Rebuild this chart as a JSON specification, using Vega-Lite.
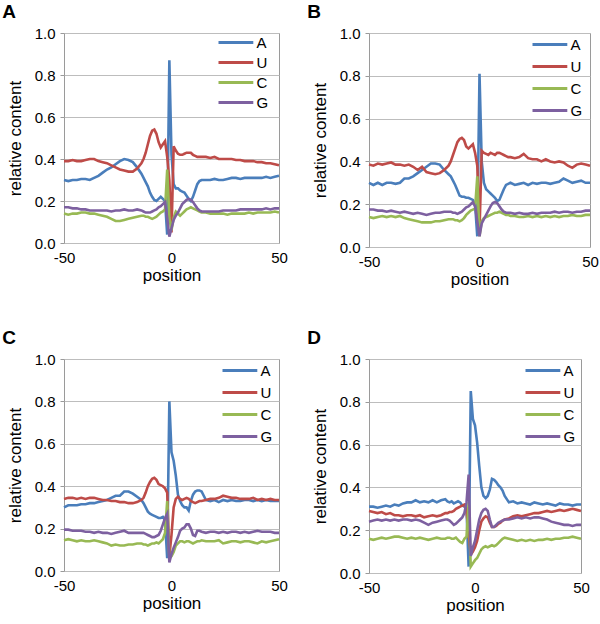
{
"$schema": "https://vega.github.io/schema/vega-lite/v6.json",
"background": "white",
"padding": {"left": 1, "top": 2, "right": 2, "bottom": 0},
"config": {
  "font": "Liberation Sans",
  "view": {"stroke": "#9a9a9a", "strokeWidth": 1},
  "axis": {"labelFont": "Liberation Sans", "titleFont": "Liberation Sans", "labelFontSize": 15, "titleFontSize": 17, "titleFontWeight": "normal", "labelColor": "#000", "titleColor": "#000", "domain": false, "gridColor": "#bdbdbd", "tickColor": "#9a9a9a"},
  "axisX": {"grid": false, "ticks": false, "labelPadding": 7, "titlePadding": 2, "labelFlush": false, "labelExpr": "'' + datum.value"},
  "axisY": {"grid": true, "tickSize": 4, "labelPadding": 5, "titlePadding": 10},
  "legend": {"title": null, "symbolType": "M-5.8,0H5.8", "symbolSize": 36, "symbolOffset": 14.4, "labelOffset": 13, "symbolStrokeWidth": 3, "labelFontSize": 15, "labelFont": "Liberation Sans", "labelColor": "#000", "rowPadding": 4, "padding": 0},
  "title": {"font": "Liberation Sans", "fontSize": 19, "fontWeight": "bold", "anchor": "start", "frame": "bounds", "baseline": "alphabetic", "offset": 4, "color": "#000"}
},
"data": {"values": [
{"g":"A","b":"A","x":-50,"y":0.3},{"g":"A","b":"A","x":-48,"y":0.295},{"g":"A","b":"A","x":-46,"y":0.3},{"g":"A","b":"A","x":-44,"y":0.3},{"g":"A","b":"A","x":-42,"y":0.305},{"g":"A","b":"A","x":-40,"y":0.305},{"g":"A","b":"A","x":-38,"y":0.3},{"g":"A","b":"A","x":-36,"y":0.31},{"g":"A","b":"A","x":-34,"y":0.32},{"g":"A","b":"A","x":-32,"y":0.335},{"g":"A","b":"A","x":-30,"y":0.35},{"g":"A","b":"A","x":-28,"y":0.36},{"g":"A","b":"A","x":-26,"y":0.375},{"g":"A","b":"A","x":-24,"y":0.39},{"g":"A","b":"A","x":-22,"y":0.4},{"g":"A","b":"A","x":-20,"y":0.395},{"g":"A","b":"A","x":-18,"y":0.385},{"g":"A","b":"A","x":-16,"y":0.36},{"g":"A","b":"A","x":-14,"y":0.33},
{"g":"A","b":"A","x":-13,"y":0.31},{"g":"A","b":"A","x":-12,"y":0.29},{"g":"A","b":"A","x":-11,"y":0.27},{"g":"A","b":"A","x":-10,"y":0.24},{"g":"A","b":"A","x":-9,"y":0.22},{"g":"A","b":"A","x":-8,"y":0.205},{"g":"A","b":"A","x":-7,"y":0.2},{"g":"A","b":"A","x":-6,"y":0.21},{"g":"A","b":"A","x":-5,"y":0.22},{"g":"A","b":"A","x":-4,"y":0.21},{"g":"A","b":"A","x":-3,"y":0.2},{"g":"A","b":"A","x":-2,"y":0.04},{"g":"A","b":"A","x":-1,"y":0.87},{"g":"A","b":"A","x":0,"y":0.42},{"g":"A","b":"A","x":1,"y":0.28},{"g":"A","b":"A","x":2,"y":0.26},{"g":"A","b":"A","x":3,"y":0.26},{"g":"A","b":"A","x":4,"y":0.25},{"g":"A","b":"A","x":5,"y":0.245},{"g":"A","b":"A","x":6,"y":0.24},{"g":"A","b":"A","x":7,"y":0.225},{"g":"A","b":"A","x":8,"y":0.21},{"g":"A","b":"A","x":9,"y":0.2},{"g":"A","b":"A","x":10,"y":0.22},{"g":"A","b":"A","x":11,"y":0.25},{"g":"A","b":"A","x":12,"y":0.28},{"g":"A","b":"A","x":13,"y":0.295},
{"g":"A","b":"A","x":14,"y":0.3},{"g":"A","b":"A","x":16,"y":0.3},{"g":"A","b":"A","x":18,"y":0.3},{"g":"A","b":"A","x":20,"y":0.305},{"g":"A","b":"A","x":22,"y":0.3},{"g":"A","b":"A","x":24,"y":0.3},{"g":"A","b":"A","x":26,"y":0.305},{"g":"A","b":"A","x":28,"y":0.31},{"g":"A","b":"A","x":30,"y":0.31},{"g":"A","b":"A","x":32,"y":0.305},{"g":"A","b":"A","x":34,"y":0.31},{"g":"A","b":"A","x":36,"y":0.31},{"g":"A","b":"A","x":38,"y":0.31},{"g":"A","b":"A","x":40,"y":0.31},{"g":"A","b":"A","x":42,"y":0.31},{"g":"A","b":"A","x":44,"y":0.315},{"g":"A","b":"A","x":46,"y":0.31},{"g":"A","b":"A","x":48,"y":0.315},{"g":"A","b":"A","x":50,"y":0.32},

{"g":"A","b":"U","x":-50,"y":0.39},{"g":"A","b":"U","x":-48,"y":0.39},{"g":"A","b":"U","x":-46,"y":0.395},{"g":"A","b":"U","x":-44,"y":0.39},{"g":"A","b":"U","x":-42,"y":0.39},{"g":"A","b":"U","x":-40,"y":0.395},{"g":"A","b":"U","x":-38,"y":0.4},{"g":"A","b":"U","x":-36,"y":0.4},{"g":"A","b":"U","x":-34,"y":0.39},{"g":"A","b":"U","x":-32,"y":0.385},{"g":"A","b":"U","x":-30,"y":0.38},{"g":"A","b":"U","x":-28,"y":0.37},{"g":"A","b":"U","x":-26,"y":0.36},{"g":"A","b":"U","x":-24,"y":0.35},{"g":"A","b":"U","x":-22,"y":0.345},{"g":"A","b":"U","x":-20,"y":0.34},{"g":"A","b":"U","x":-18,"y":0.34},{"g":"A","b":"U","x":-16,"y":0.355},{"g":"A","b":"U","x":-14,"y":0.38},
{"g":"A","b":"U","x":-13,"y":0.4},{"g":"A","b":"U","x":-12,"y":0.43},{"g":"A","b":"U","x":-11,"y":0.47},{"g":"A","b":"U","x":-10,"y":0.51},{"g":"A","b":"U","x":-9,"y":0.535},{"g":"A","b":"U","x":-8,"y":0.54},{"g":"A","b":"U","x":-7,"y":0.52},{"g":"A","b":"U","x":-6,"y":0.48},{"g":"A","b":"U","x":-5,"y":0.455},{"g":"A","b":"U","x":-4,"y":0.47},{"g":"A","b":"U","x":-3,"y":0.485},{"g":"A","b":"U","x":-2,"y":0.41},{"g":"A","b":"U","x":-1,"y":0.3},{"g":"A","b":"U","x":0,"y":0.05},{"g":"A","b":"U","x":1,"y":0.46},{"g":"A","b":"U","x":2,"y":0.44},{"g":"A","b":"U","x":3,"y":0.425},{"g":"A","b":"U","x":4,"y":0.42},{"g":"A","b":"U","x":5,"y":0.42},{"g":"A","b":"U","x":6,"y":0.425},{"g":"A","b":"U","x":7,"y":0.43},{"g":"A","b":"U","x":8,"y":0.43},{"g":"A","b":"U","x":9,"y":0.43},{"g":"A","b":"U","x":10,"y":0.42},{"g":"A","b":"U","x":11,"y":0.415},{"g":"A","b":"U","x":12,"y":0.41},{"g":"A","b":"U","x":13,"y":0.41},
{"g":"A","b":"U","x":14,"y":0.41},{"g":"A","b":"U","x":16,"y":0.41},{"g":"A","b":"U","x":18,"y":0.405},{"g":"A","b":"U","x":20,"y":0.41},{"g":"A","b":"U","x":22,"y":0.4},{"g":"A","b":"U","x":24,"y":0.4},{"g":"A","b":"U","x":26,"y":0.4},{"g":"A","b":"U","x":28,"y":0.4},{"g":"A","b":"U","x":30,"y":0.395},{"g":"A","b":"U","x":32,"y":0.395},{"g":"A","b":"U","x":34,"y":0.39},{"g":"A","b":"U","x":36,"y":0.39},{"g":"A","b":"U","x":38,"y":0.39},{"g":"A","b":"U","x":40,"y":0.385},{"g":"A","b":"U","x":42,"y":0.385},{"g":"A","b":"U","x":44,"y":0.38},{"g":"A","b":"U","x":46,"y":0.38},{"g":"A","b":"U","x":48,"y":0.375},{"g":"A","b":"U","x":50,"y":0.37},

{"g":"A","b":"C","x":-50,"y":0.14},{"g":"A","b":"C","x":-48,"y":0.135},{"g":"A","b":"C","x":-46,"y":0.14},{"g":"A","b":"C","x":-44,"y":0.14},{"g":"A","b":"C","x":-42,"y":0.145},{"g":"A","b":"C","x":-40,"y":0.145},{"g":"A","b":"C","x":-38,"y":0.14},{"g":"A","b":"C","x":-36,"y":0.14},{"g":"A","b":"C","x":-34,"y":0.135},{"g":"A","b":"C","x":-32,"y":0.13},{"g":"A","b":"C","x":-30,"y":0.125},{"g":"A","b":"C","x":-28,"y":0.115},{"g":"A","b":"C","x":-26,"y":0.105},{"g":"A","b":"C","x":-24,"y":0.105},{"g":"A","b":"C","x":-22,"y":0.11},{"g":"A","b":"C","x":-20,"y":0.115},{"g":"A","b":"C","x":-18,"y":0.12},{"g":"A","b":"C","x":-16,"y":0.125},{"g":"A","b":"C","x":-14,"y":0.13},
{"g":"A","b":"C","x":-13,"y":0.13},{"g":"A","b":"C","x":-12,"y":0.125},{"g":"A","b":"C","x":-11,"y":0.125},{"g":"A","b":"C","x":-10,"y":0.12},{"g":"A","b":"C","x":-9,"y":0.115},{"g":"A","b":"C","x":-8,"y":0.12},{"g":"A","b":"C","x":-7,"y":0.125},{"g":"A","b":"C","x":-6,"y":0.135},{"g":"A","b":"C","x":-5,"y":0.145},{"g":"A","b":"C","x":-4,"y":0.15},{"g":"A","b":"C","x":-3,"y":0.16},{"g":"A","b":"C","x":-2,"y":0.35},{"g":"A","b":"C","x":-1,"y":0.12},{"g":"A","b":"C","x":0,"y":0.06},{"g":"A","b":"C","x":1,"y":0.12},{"g":"A","b":"C","x":2,"y":0.15},{"g":"A","b":"C","x":3,"y":0.14},{"g":"A","b":"C","x":4,"y":0.13},{"g":"A","b":"C","x":5,"y":0.14},{"g":"A","b":"C","x":6,"y":0.15},{"g":"A","b":"C","x":7,"y":0.16},{"g":"A","b":"C","x":8,"y":0.165},{"g":"A","b":"C","x":9,"y":0.17},{"g":"A","b":"C","x":10,"y":0.165},{"g":"A","b":"C","x":11,"y":0.16},{"g":"A","b":"C","x":12,"y":0.155},{"g":"A","b":"C","x":13,"y":0.15},
{"g":"A","b":"C","x":14,"y":0.145},{"g":"A","b":"C","x":16,"y":0.145},{"g":"A","b":"C","x":18,"y":0.14},{"g":"A","b":"C","x":20,"y":0.14},{"g":"A","b":"C","x":22,"y":0.14},{"g":"A","b":"C","x":24,"y":0.14},{"g":"A","b":"C","x":26,"y":0.135},{"g":"A","b":"C","x":28,"y":0.14},{"g":"A","b":"C","x":30,"y":0.14},{"g":"A","b":"C","x":32,"y":0.14},{"g":"A","b":"C","x":34,"y":0.14},{"g":"A","b":"C","x":36,"y":0.145},{"g":"A","b":"C","x":38,"y":0.14},{"g":"A","b":"C","x":40,"y":0.145},{"g":"A","b":"C","x":42,"y":0.145},{"g":"A","b":"C","x":44,"y":0.145},{"g":"A","b":"C","x":46,"y":0.145},{"g":"A","b":"C","x":48,"y":0.15},{"g":"A","b":"C","x":50,"y":0.145},

{"g":"A","b":"G","x":-50,"y":0.17},{"g":"A","b":"G","x":-48,"y":0.17},{"g":"A","b":"G","x":-46,"y":0.165},{"g":"A","b":"G","x":-44,"y":0.165},{"g":"A","b":"G","x":-42,"y":0.16},{"g":"A","b":"G","x":-40,"y":0.16},{"g":"A","b":"G","x":-38,"y":0.155},{"g":"A","b":"G","x":-36,"y":0.155},{"g":"A","b":"G","x":-34,"y":0.155},{"g":"A","b":"G","x":-32,"y":0.155},{"g":"A","b":"G","x":-30,"y":0.155},{"g":"A","b":"G","x":-28,"y":0.15},{"g":"A","b":"G","x":-26,"y":0.155},{"g":"A","b":"G","x":-24,"y":0.155},{"g":"A","b":"G","x":-22,"y":0.16},{"g":"A","b":"G","x":-20,"y":0.155},{"g":"A","b":"G","x":-18,"y":0.155},{"g":"A","b":"G","x":-16,"y":0.16},{"g":"A","b":"G","x":-14,"y":0.155},
{"g":"A","b":"G","x":-13,"y":0.15},{"g":"A","b":"G","x":-12,"y":0.145},{"g":"A","b":"G","x":-11,"y":0.145},{"g":"A","b":"G","x":-10,"y":0.145},{"g":"A","b":"G","x":-9,"y":0.15},{"g":"A","b":"G","x":-8,"y":0.155},{"g":"A","b":"G","x":-7,"y":0.16},{"g":"A","b":"G","x":-6,"y":0.17},{"g":"A","b":"G","x":-5,"y":0.175},{"g":"A","b":"G","x":-4,"y":0.185},{"g":"A","b":"G","x":-3,"y":0.195},{"g":"A","b":"G","x":-2,"y":0.12},{"g":"A","b":"G","x":-1,"y":0.03},{"g":"A","b":"G","x":0,"y":0.07},{"g":"A","b":"G","x":1,"y":0.11},{"g":"A","b":"G","x":2,"y":0.13},{"g":"A","b":"G","x":3,"y":0.145},{"g":"A","b":"G","x":4,"y":0.165},{"g":"A","b":"G","x":5,"y":0.185},{"g":"A","b":"G","x":6,"y":0.195},{"g":"A","b":"G","x":7,"y":0.205},{"g":"A","b":"G","x":8,"y":0.21},{"g":"A","b":"G","x":9,"y":0.205},{"g":"A","b":"G","x":10,"y":0.195},{"g":"A","b":"G","x":11,"y":0.18},{"g":"A","b":"G","x":12,"y":0.165},{"g":"A","b":"G","x":13,"y":0.155},
{"g":"A","b":"G","x":14,"y":0.15},{"g":"A","b":"G","x":16,"y":0.15},{"g":"A","b":"G","x":18,"y":0.15},{"g":"A","b":"G","x":20,"y":0.15},{"g":"A","b":"G","x":22,"y":0.15},{"g":"A","b":"G","x":24,"y":0.155},{"g":"A","b":"G","x":26,"y":0.155},{"g":"A","b":"G","x":28,"y":0.155},{"g":"A","b":"G","x":30,"y":0.155},{"g":"A","b":"G","x":32,"y":0.16},{"g":"A","b":"G","x":34,"y":0.16},{"g":"A","b":"G","x":36,"y":0.16},{"g":"A","b":"G","x":38,"y":0.16},{"g":"A","b":"G","x":40,"y":0.16},{"g":"A","b":"G","x":42,"y":0.16},{"g":"A","b":"G","x":44,"y":0.165},{"g":"A","b":"G","x":46,"y":0.16},{"g":"A","b":"G","x":48,"y":0.165},{"g":"A","b":"G","x":50,"y":0.165},

{"g":"B","b":"A","x":-50,"y":0.3},{"g":"B","b":"A","x":-48,"y":0.29},{"g":"B","b":"A","x":-46,"y":0.3},{"g":"B","b":"A","x":-44,"y":0.29},{"g":"B","b":"A","x":-42,"y":0.3},{"g":"B","b":"A","x":-40,"y":0.3},{"g":"B","b":"A","x":-38,"y":0.295},{"g":"B","b":"A","x":-36,"y":0.3},{"g":"B","b":"A","x":-34,"y":0.32},{"g":"B","b":"A","x":-32,"y":0.32},{"g":"B","b":"A","x":-30,"y":0.33},{"g":"B","b":"A","x":-28,"y":0.345},{"g":"B","b":"A","x":-26,"y":0.36},{"g":"B","b":"A","x":-24,"y":0.375},{"g":"B","b":"A","x":-22,"y":0.39},{"g":"B","b":"A","x":-20,"y":0.39},{"g":"B","b":"A","x":-18,"y":0.385},{"g":"B","b":"A","x":-16,"y":0.36},{"g":"B","b":"A","x":-14,"y":0.34},
{"g":"B","b":"A","x":-13,"y":0.33},{"g":"B","b":"A","x":-12,"y":0.31},{"g":"B","b":"A","x":-11,"y":0.29},{"g":"B","b":"A","x":-10,"y":0.265},{"g":"B","b":"A","x":-9,"y":0.24},{"g":"B","b":"A","x":-8,"y":0.235},{"g":"B","b":"A","x":-7,"y":0.235},{"g":"B","b":"A","x":-6,"y":0.23},{"g":"B","b":"A","x":-5,"y":0.23},{"g":"B","b":"A","x":-4,"y":0.225},{"g":"B","b":"A","x":-3,"y":0.22},{"g":"B","b":"A","x":-2,"y":0.2},{"g":"B","b":"A","x":-1,"y":0.05},{"g":"B","b":"A","x":0,"y":0.81},{"g":"B","b":"A","x":1,"y":0.4},{"g":"B","b":"A","x":2,"y":0.3},{"g":"B","b":"A","x":3,"y":0.27},{"g":"B","b":"A","x":4,"y":0.26},{"g":"B","b":"A","x":5,"y":0.25},{"g":"B","b":"A","x":6,"y":0.24},{"g":"B","b":"A","x":7,"y":0.23},{"g":"B","b":"A","x":8,"y":0.215},{"g":"B","b":"A","x":9,"y":0.22},{"g":"B","b":"A","x":10,"y":0.245},{"g":"B","b":"A","x":11,"y":0.27},{"g":"B","b":"A","x":12,"y":0.29},{"g":"B","b":"A","x":13,"y":0.295},
{"g":"B","b":"A","x":14,"y":0.3},{"g":"B","b":"A","x":16,"y":0.29},{"g":"B","b":"A","x":18,"y":0.295},{"g":"B","b":"A","x":20,"y":0.3},{"g":"B","b":"A","x":22,"y":0.29},{"g":"B","b":"A","x":24,"y":0.3},{"g":"B","b":"A","x":26,"y":0.295},{"g":"B","b":"A","x":28,"y":0.3},{"g":"B","b":"A","x":30,"y":0.3},{"g":"B","b":"A","x":32,"y":0.295},{"g":"B","b":"A","x":34,"y":0.3},{"g":"B","b":"A","x":36,"y":0.305},{"g":"B","b":"A","x":38,"y":0.32},{"g":"B","b":"A","x":40,"y":0.31},{"g":"B","b":"A","x":42,"y":0.3},{"g":"B","b":"A","x":44,"y":0.305},{"g":"B","b":"A","x":46,"y":0.31},{"g":"B","b":"A","x":48,"y":0.3},{"g":"B","b":"A","x":50,"y":0.3},

{"g":"B","b":"U","x":-50,"y":0.385},{"g":"B","b":"U","x":-48,"y":0.38},{"g":"B","b":"U","x":-46,"y":0.39},{"g":"B","b":"U","x":-44,"y":0.385},{"g":"B","b":"U","x":-42,"y":0.39},{"g":"B","b":"U","x":-40,"y":0.395},{"g":"B","b":"U","x":-38,"y":0.385},{"g":"B","b":"U","x":-36,"y":0.385},{"g":"B","b":"U","x":-34,"y":0.38},{"g":"B","b":"U","x":-32,"y":0.385},{"g":"B","b":"U","x":-30,"y":0.375},{"g":"B","b":"U","x":-28,"y":0.36},{"g":"B","b":"U","x":-26,"y":0.375},{"g":"B","b":"U","x":-24,"y":0.35},{"g":"B","b":"U","x":-22,"y":0.345},{"g":"B","b":"U","x":-20,"y":0.34},{"g":"B","b":"U","x":-18,"y":0.345},{"g":"B","b":"U","x":-16,"y":0.36},{"g":"B","b":"U","x":-14,"y":0.38},
{"g":"B","b":"U","x":-13,"y":0.4},{"g":"B","b":"U","x":-12,"y":0.43},{"g":"B","b":"U","x":-11,"y":0.46},{"g":"B","b":"U","x":-10,"y":0.49},{"g":"B","b":"U","x":-9,"y":0.505},{"g":"B","b":"U","x":-8,"y":0.51},{"g":"B","b":"U","x":-7,"y":0.5},{"g":"B","b":"U","x":-6,"y":0.47},{"g":"B","b":"U","x":-5,"y":0.46},{"g":"B","b":"U","x":-4,"y":0.47},{"g":"B","b":"U","x":-3,"y":0.48},{"g":"B","b":"U","x":-2,"y":0.44},{"g":"B","b":"U","x":-1,"y":0.38},{"g":"B","b":"U","x":0,"y":0.07},{"g":"B","b":"U","x":1,"y":0.45},{"g":"B","b":"U","x":2,"y":0.44},{"g":"B","b":"U","x":3,"y":0.435},{"g":"B","b":"U","x":4,"y":0.43},{"g":"B","b":"U","x":5,"y":0.44},{"g":"B","b":"U","x":6,"y":0.435},{"g":"B","b":"U","x":7,"y":0.43},{"g":"B","b":"U","x":8,"y":0.44},{"g":"B","b":"U","x":9,"y":0.44},{"g":"B","b":"U","x":10,"y":0.435},{"g":"B","b":"U","x":11,"y":0.43},{"g":"B","b":"U","x":12,"y":0.425},{"g":"B","b":"U","x":13,"y":0.42},
{"g":"B","b":"U","x":14,"y":0.42},{"g":"B","b":"U","x":16,"y":0.415},{"g":"B","b":"U","x":18,"y":0.42},{"g":"B","b":"U","x":20,"y":0.435},{"g":"B","b":"U","x":22,"y":0.415},{"g":"B","b":"U","x":24,"y":0.41},{"g":"B","b":"U","x":26,"y":0.41},{"g":"B","b":"U","x":28,"y":0.4},{"g":"B","b":"U","x":30,"y":0.41},{"g":"B","b":"U","x":32,"y":0.4},{"g":"B","b":"U","x":34,"y":0.395},{"g":"B","b":"U","x":36,"y":0.4},{"g":"B","b":"U","x":38,"y":0.395},{"g":"B","b":"U","x":40,"y":0.38},{"g":"B","b":"U","x":42,"y":0.37},{"g":"B","b":"U","x":44,"y":0.385},{"g":"B","b":"U","x":46,"y":0.39},{"g":"B","b":"U","x":48,"y":0.385},{"g":"B","b":"U","x":50,"y":0.38},

{"g":"B","b":"C","x":-50,"y":0.14},{"g":"B","b":"C","x":-48,"y":0.135},{"g":"B","b":"C","x":-46,"y":0.14},{"g":"B","b":"C","x":-44,"y":0.145},{"g":"B","b":"C","x":-42,"y":0.14},{"g":"B","b":"C","x":-40,"y":0.145},{"g":"B","b":"C","x":-38,"y":0.14},{"g":"B","b":"C","x":-36,"y":0.145},{"g":"B","b":"C","x":-34,"y":0.135},{"g":"B","b":"C","x":-32,"y":0.13},{"g":"B","b":"C","x":-30,"y":0.125},{"g":"B","b":"C","x":-28,"y":0.12},{"g":"B","b":"C","x":-26,"y":0.115},{"g":"B","b":"C","x":-24,"y":0.115},{"g":"B","b":"C","x":-22,"y":0.115},{"g":"B","b":"C","x":-20,"y":0.12},{"g":"B","b":"C","x":-18,"y":0.12},{"g":"B","b":"C","x":-16,"y":0.125},{"g":"B","b":"C","x":-14,"y":0.13},
{"g":"B","b":"C","x":-13,"y":0.13},{"g":"B","b":"C","x":-12,"y":0.13},{"g":"B","b":"C","x":-11,"y":0.125},{"g":"B","b":"C","x":-10,"y":0.125},{"g":"B","b":"C","x":-9,"y":0.12},{"g":"B","b":"C","x":-8,"y":0.125},{"g":"B","b":"C","x":-7,"y":0.135},{"g":"B","b":"C","x":-6,"y":0.15},{"g":"B","b":"C","x":-5,"y":0.16},{"g":"B","b":"C","x":-4,"y":0.17},{"g":"B","b":"C","x":-3,"y":0.175},{"g":"B","b":"C","x":-2,"y":0.18},{"g":"B","b":"C","x":-1,"y":0.33},{"g":"B","b":"C","x":0,"y":0.05},{"g":"B","b":"C","x":1,"y":0.12},{"g":"B","b":"C","x":2,"y":0.135},{"g":"B","b":"C","x":3,"y":0.14},{"g":"B","b":"C","x":4,"y":0.145},{"g":"B","b":"C","x":5,"y":0.15},{"g":"B","b":"C","x":6,"y":0.155},{"g":"B","b":"C","x":7,"y":0.16},{"g":"B","b":"C","x":8,"y":0.16},{"g":"B","b":"C","x":9,"y":0.165},{"g":"B","b":"C","x":10,"y":0.16},{"g":"B","b":"C","x":11,"y":0.155},{"g":"B","b":"C","x":12,"y":0.15},{"g":"B","b":"C","x":13,"y":0.15},
{"g":"B","b":"C","x":14,"y":0.145},{"g":"B","b":"C","x":16,"y":0.145},{"g":"B","b":"C","x":18,"y":0.14},{"g":"B","b":"C","x":20,"y":0.14},{"g":"B","b":"C","x":22,"y":0.145},{"g":"B","b":"C","x":24,"y":0.14},{"g":"B","b":"C","x":26,"y":0.145},{"g":"B","b":"C","x":28,"y":0.14},{"g":"B","b":"C","x":30,"y":0.145},{"g":"B","b":"C","x":32,"y":0.14},{"g":"B","b":"C","x":34,"y":0.145},{"g":"B","b":"C","x":36,"y":0.14},{"g":"B","b":"C","x":38,"y":0.145},{"g":"B","b":"C","x":40,"y":0.145},{"g":"B","b":"C","x":42,"y":0.15},{"g":"B","b":"C","x":44,"y":0.145},{"g":"B","b":"C","x":46,"y":0.145},{"g":"B","b":"C","x":48,"y":0.15},{"g":"B","b":"C","x":50,"y":0.15},

{"g":"B","b":"G","x":-50,"y":0.175},{"g":"B","b":"G","x":-48,"y":0.175},{"g":"B","b":"G","x":-46,"y":0.17},{"g":"B","b":"G","x":-44,"y":0.17},{"g":"B","b":"G","x":-42,"y":0.165},{"g":"B","b":"G","x":-40,"y":0.17},{"g":"B","b":"G","x":-38,"y":0.165},{"g":"B","b":"G","x":-36,"y":0.16},{"g":"B","b":"G","x":-34,"y":0.165},{"g":"B","b":"G","x":-32,"y":0.16},{"g":"B","b":"G","x":-30,"y":0.155},{"g":"B","b":"G","x":-28,"y":0.16},{"g":"B","b":"G","x":-26,"y":0.155},{"g":"B","b":"G","x":-24,"y":0.15},{"g":"B","b":"G","x":-22,"y":0.155},{"g":"B","b":"G","x":-20,"y":0.16},{"g":"B","b":"G","x":-18,"y":0.16},{"g":"B","b":"G","x":-16,"y":0.165},{"g":"B","b":"G","x":-14,"y":0.165},
{"g":"B","b":"G","x":-13,"y":0.165},{"g":"B","b":"G","x":-12,"y":0.16},{"g":"B","b":"G","x":-11,"y":0.16},{"g":"B","b":"G","x":-10,"y":0.155},{"g":"B","b":"G","x":-9,"y":0.16},{"g":"B","b":"G","x":-8,"y":0.165},{"g":"B","b":"G","x":-7,"y":0.175},{"g":"B","b":"G","x":-6,"y":0.185},{"g":"B","b":"G","x":-5,"y":0.19},{"g":"B","b":"G","x":-4,"y":0.2},{"g":"B","b":"G","x":-3,"y":0.21},{"g":"B","b":"G","x":-2,"y":0.19},{"g":"B","b":"G","x":-1,"y":0.12},{"g":"B","b":"G","x":0,"y":0.05},{"g":"B","b":"G","x":1,"y":0.11},{"g":"B","b":"G","x":2,"y":0.13},{"g":"B","b":"G","x":3,"y":0.15},{"g":"B","b":"G","x":4,"y":0.17},{"g":"B","b":"G","x":5,"y":0.19},{"g":"B","b":"G","x":6,"y":0.205},{"g":"B","b":"G","x":7,"y":0.21},{"g":"B","b":"G","x":8,"y":0.205},{"g":"B","b":"G","x":9,"y":0.19},{"g":"B","b":"G","x":10,"y":0.175},{"g":"B","b":"G","x":11,"y":0.165},{"g":"B","b":"G","x":12,"y":0.16},{"g":"B","b":"G","x":13,"y":0.16},
{"g":"B","b":"G","x":14,"y":0.16},{"g":"B","b":"G","x":16,"y":0.155},{"g":"B","b":"G","x":18,"y":0.16},{"g":"B","b":"G","x":20,"y":0.155},{"g":"B","b":"G","x":22,"y":0.155},{"g":"B","b":"G","x":24,"y":0.16},{"g":"B","b":"G","x":26,"y":0.155},{"g":"B","b":"G","x":28,"y":0.16},{"g":"B","b":"G","x":30,"y":0.16},{"g":"B","b":"G","x":32,"y":0.16},{"g":"B","b":"G","x":34,"y":0.165},{"g":"B","b":"G","x":36,"y":0.16},{"g":"B","b":"G","x":38,"y":0.165},{"g":"B","b":"G","x":40,"y":0.165},{"g":"B","b":"G","x":42,"y":0.16},{"g":"B","b":"G","x":44,"y":0.165},{"g":"B","b":"G","x":46,"y":0.165},{"g":"B","b":"G","x":48,"y":0.17},{"g":"B","b":"G","x":50,"y":0.17},

{"g":"C","b":"A","x":-50,"y":0.3},{"g":"C","b":"A","x":-48,"y":0.31},{"g":"C","b":"A","x":-46,"y":0.31},{"g":"C","b":"A","x":-44,"y":0.31},{"g":"C","b":"A","x":-42,"y":0.315},{"g":"C","b":"A","x":-40,"y":0.315},{"g":"C","b":"A","x":-38,"y":0.32},{"g":"C","b":"A","x":-36,"y":0.32},{"g":"C","b":"A","x":-34,"y":0.325},{"g":"C","b":"A","x":-32,"y":0.33},{"g":"C","b":"A","x":-30,"y":0.335},{"g":"C","b":"A","x":-28,"y":0.345},{"g":"C","b":"A","x":-26,"y":0.355},{"g":"C","b":"A","x":-24,"y":0.355},{"g":"C","b":"A","x":-22,"y":0.375},{"g":"C","b":"A","x":-20,"y":0.375},{"g":"C","b":"A","x":-18,"y":0.365},{"g":"C","b":"A","x":-16,"y":0.35},{"g":"C","b":"A","x":-14,"y":0.335},
{"g":"C","b":"A","x":-13,"y":0.32},{"g":"C","b":"A","x":-12,"y":0.3},{"g":"C","b":"A","x":-11,"y":0.28},{"g":"C","b":"A","x":-10,"y":0.27},{"g":"C","b":"A","x":-9,"y":0.265},{"g":"C","b":"A","x":-8,"y":0.26},{"g":"C","b":"A","x":-7,"y":0.255},{"g":"C","b":"A","x":-6,"y":0.25},{"g":"C","b":"A","x":-5,"y":0.25},{"g":"C","b":"A","x":-4,"y":0.255},{"g":"C","b":"A","x":-3,"y":0.24},{"g":"C","b":"A","x":-2,"y":0.06},{"g":"C","b":"A","x":-1,"y":0.8},{"g":"C","b":"A","x":0,"y":0.56},{"g":"C","b":"A","x":1,"y":0.52},{"g":"C","b":"A","x":2,"y":0.45},{"g":"C","b":"A","x":3,"y":0.36},{"g":"C","b":"A","x":4,"y":0.33},{"g":"C","b":"A","x":5,"y":0.31},{"g":"C","b":"A","x":6,"y":0.3},{"g":"C","b":"A","x":7,"y":0.3},{"g":"C","b":"A","x":8,"y":0.285},{"g":"C","b":"A","x":9,"y":0.33},{"g":"C","b":"A","x":10,"y":0.36},{"g":"C","b":"A","x":11,"y":0.375},{"g":"C","b":"A","x":12,"y":0.38},{"g":"C","b":"A","x":13,"y":0.38},
{"g":"C","b":"A","x":14,"y":0.375},{"g":"C","b":"A","x":16,"y":0.335},{"g":"C","b":"A","x":18,"y":0.33},{"g":"C","b":"A","x":20,"y":0.335},{"g":"C","b":"A","x":22,"y":0.325},{"g":"C","b":"A","x":24,"y":0.335},{"g":"C","b":"A","x":26,"y":0.33},{"g":"C","b":"A","x":28,"y":0.335},{"g":"C","b":"A","x":30,"y":0.33},{"g":"C","b":"A","x":32,"y":0.33},{"g":"C","b":"A","x":34,"y":0.335},{"g":"C","b":"A","x":36,"y":0.335},{"g":"C","b":"A","x":38,"y":0.33},{"g":"C","b":"A","x":40,"y":0.335},{"g":"C","b":"A","x":42,"y":0.33},{"g":"C","b":"A","x":44,"y":0.335},{"g":"C","b":"A","x":46,"y":0.33},{"g":"C","b":"A","x":48,"y":0.33},{"g":"C","b":"A","x":50,"y":0.33},

{"g":"C","b":"U","x":-50,"y":0.34},{"g":"C","b":"U","x":-48,"y":0.345},{"g":"C","b":"U","x":-46,"y":0.345},{"g":"C","b":"U","x":-44,"y":0.34},{"g":"C","b":"U","x":-42,"y":0.345},{"g":"C","b":"U","x":-40,"y":0.34},{"g":"C","b":"U","x":-38,"y":0.345},{"g":"C","b":"U","x":-36,"y":0.345},{"g":"C","b":"U","x":-34,"y":0.34},{"g":"C","b":"U","x":-32,"y":0.335},{"g":"C","b":"U","x":-30,"y":0.335},{"g":"C","b":"U","x":-28,"y":0.33},{"g":"C","b":"U","x":-26,"y":0.33},{"g":"C","b":"U","x":-24,"y":0.325},{"g":"C","b":"U","x":-22,"y":0.325},{"g":"C","b":"U","x":-20,"y":0.32},{"g":"C","b":"U","x":-18,"y":0.32},{"g":"C","b":"U","x":-16,"y":0.325},{"g":"C","b":"U","x":-14,"y":0.335},
{"g":"C","b":"U","x":-13,"y":0.345},{"g":"C","b":"U","x":-12,"y":0.37},{"g":"C","b":"U","x":-11,"y":0.4},{"g":"C","b":"U","x":-10,"y":0.42},{"g":"C","b":"U","x":-9,"y":0.435},{"g":"C","b":"U","x":-8,"y":0.44},{"g":"C","b":"U","x":-7,"y":0.43},{"g":"C","b":"U","x":-6,"y":0.41},{"g":"C","b":"U","x":-5,"y":0.405},{"g":"C","b":"U","x":-4,"y":0.4},{"g":"C","b":"U","x":-3,"y":0.39},{"g":"C","b":"U","x":-2,"y":0.37},{"g":"C","b":"U","x":-1,"y":0.07},{"g":"C","b":"U","x":0,"y":0.17},{"g":"C","b":"U","x":1,"y":0.3},{"g":"C","b":"U","x":2,"y":0.34},{"g":"C","b":"U","x":3,"y":0.35},{"g":"C","b":"U","x":4,"y":0.34},{"g":"C","b":"U","x":5,"y":0.335},{"g":"C","b":"U","x":6,"y":0.34},{"g":"C","b":"U","x":7,"y":0.345},{"g":"C","b":"U","x":8,"y":0.34},{"g":"C","b":"U","x":9,"y":0.33},{"g":"C","b":"U","x":10,"y":0.325},{"g":"C","b":"U","x":11,"y":0.32},{"g":"C","b":"U","x":12,"y":0.325},{"g":"C","b":"U","x":13,"y":0.33},
{"g":"C","b":"U","x":14,"y":0.33},{"g":"C","b":"U","x":16,"y":0.335},{"g":"C","b":"U","x":18,"y":0.34},{"g":"C","b":"U","x":20,"y":0.34},{"g":"C","b":"U","x":22,"y":0.345},{"g":"C","b":"U","x":24,"y":0.355},{"g":"C","b":"U","x":26,"y":0.35},{"g":"C","b":"U","x":28,"y":0.345},{"g":"C","b":"U","x":30,"y":0.345},{"g":"C","b":"U","x":32,"y":0.34},{"g":"C","b":"U","x":34,"y":0.34},{"g":"C","b":"U","x":36,"y":0.34},{"g":"C","b":"U","x":38,"y":0.345},{"g":"C","b":"U","x":40,"y":0.335},{"g":"C","b":"U","x":42,"y":0.34},{"g":"C","b":"U","x":44,"y":0.335},{"g":"C","b":"U","x":46,"y":0.34},{"g":"C","b":"U","x":48,"y":0.335},{"g":"C","b":"U","x":50,"y":0.335},

{"g":"C","b":"C","x":-50,"y":0.145},{"g":"C","b":"C","x":-48,"y":0.15},{"g":"C","b":"C","x":-46,"y":0.145},{"g":"C","b":"C","x":-44,"y":0.14},{"g":"C","b":"C","x":-42,"y":0.145},{"g":"C","b":"C","x":-40,"y":0.14},{"g":"C","b":"C","x":-38,"y":0.14},{"g":"C","b":"C","x":-36,"y":0.145},{"g":"C","b":"C","x":-34,"y":0.14},{"g":"C","b":"C","x":-32,"y":0.135},{"g":"C","b":"C","x":-30,"y":0.13},{"g":"C","b":"C","x":-28,"y":0.12},{"g":"C","b":"C","x":-26,"y":0.125},{"g":"C","b":"C","x":-24,"y":0.12},{"g":"C","b":"C","x":-22,"y":0.12},{"g":"C","b":"C","x":-20,"y":0.125},{"g":"C","b":"C","x":-18,"y":0.125},{"g":"C","b":"C","x":-16,"y":0.13},{"g":"C","b":"C","x":-14,"y":0.13},
{"g":"C","b":"C","x":-13,"y":0.125},{"g":"C","b":"C","x":-12,"y":0.125},{"g":"C","b":"C","x":-11,"y":0.12},{"g":"C","b":"C","x":-10,"y":0.125},{"g":"C","b":"C","x":-9,"y":0.13},{"g":"C","b":"C","x":-8,"y":0.13},{"g":"C","b":"C","x":-7,"y":0.135},{"g":"C","b":"C","x":-6,"y":0.13},{"g":"C","b":"C","x":-5,"y":0.14},{"g":"C","b":"C","x":-4,"y":0.15},{"g":"C","b":"C","x":-3,"y":0.18},{"g":"C","b":"C","x":-2,"y":0.33},{"g":"C","b":"C","x":-1,"y":0.06},{"g":"C","b":"C","x":0,"y":0.07},{"g":"C","b":"C","x":1,"y":0.09},{"g":"C","b":"C","x":2,"y":0.12},{"g":"C","b":"C","x":3,"y":0.13},{"g":"C","b":"C","x":4,"y":0.14},{"g":"C","b":"C","x":5,"y":0.14},{"g":"C","b":"C","x":6,"y":0.135},{"g":"C","b":"C","x":7,"y":0.14},{"g":"C","b":"C","x":8,"y":0.14},{"g":"C","b":"C","x":9,"y":0.135},{"g":"C","b":"C","x":10,"y":0.13},{"g":"C","b":"C","x":11,"y":0.135},{"g":"C","b":"C","x":12,"y":0.14},{"g":"C","b":"C","x":13,"y":0.14},
{"g":"C","b":"C","x":14,"y":0.145},{"g":"C","b":"C","x":16,"y":0.14},{"g":"C","b":"C","x":18,"y":0.14},{"g":"C","b":"C","x":20,"y":0.14},{"g":"C","b":"C","x":22,"y":0.145},{"g":"C","b":"C","x":24,"y":0.13},{"g":"C","b":"C","x":26,"y":0.135},{"g":"C","b":"C","x":28,"y":0.14},{"g":"C","b":"C","x":30,"y":0.14},{"g":"C","b":"C","x":32,"y":0.135},{"g":"C","b":"C","x":34,"y":0.14},{"g":"C","b":"C","x":36,"y":0.14},{"g":"C","b":"C","x":38,"y":0.135},{"g":"C","b":"C","x":40,"y":0.13},{"g":"C","b":"C","x":42,"y":0.14},{"g":"C","b":"C","x":44,"y":0.135},{"g":"C","b":"C","x":46,"y":0.14},{"g":"C","b":"C","x":48,"y":0.145},{"g":"C","b":"C","x":50,"y":0.15},

{"g":"C","b":"G","x":-50,"y":0.195},{"g":"C","b":"G","x":-48,"y":0.195},{"g":"C","b":"G","x":-46,"y":0.19},{"g":"C","b":"G","x":-44,"y":0.19},{"g":"C","b":"G","x":-42,"y":0.19},{"g":"C","b":"G","x":-40,"y":0.185},{"g":"C","b":"G","x":-38,"y":0.185},{"g":"C","b":"G","x":-36,"y":0.18},{"g":"C","b":"G","x":-34,"y":0.185},{"g":"C","b":"G","x":-32,"y":0.18},{"g":"C","b":"G","x":-30,"y":0.18},{"g":"C","b":"G","x":-28,"y":0.175},{"g":"C","b":"G","x":-26,"y":0.18},{"g":"C","b":"G","x":-24,"y":0.185},{"g":"C","b":"G","x":-22,"y":0.19},{"g":"C","b":"G","x":-20,"y":0.18},{"g":"C","b":"G","x":-18,"y":0.18},{"g":"C","b":"G","x":-16,"y":0.18},{"g":"C","b":"G","x":-14,"y":0.18},
{"g":"C","b":"G","x":-13,"y":0.18},{"g":"C","b":"G","x":-12,"y":0.175},{"g":"C","b":"G","x":-11,"y":0.17},{"g":"C","b":"G","x":-10,"y":0.165},{"g":"C","b":"G","x":-9,"y":0.16},{"g":"C","b":"G","x":-8,"y":0.16},{"g":"C","b":"G","x":-7,"y":0.165},{"g":"C","b":"G","x":-6,"y":0.17},{"g":"C","b":"G","x":-5,"y":0.19},{"g":"C","b":"G","x":-4,"y":0.22},{"g":"C","b":"G","x":-3,"y":0.25},{"g":"C","b":"G","x":-2,"y":0.27},{"g":"C","b":"G","x":-1,"y":0.04},{"g":"C","b":"G","x":0,"y":0.08},{"g":"C","b":"G","x":1,"y":0.11},{"g":"C","b":"G","x":2,"y":0.135},{"g":"C","b":"G","x":3,"y":0.16},{"g":"C","b":"G","x":4,"y":0.19},{"g":"C","b":"G","x":5,"y":0.2},{"g":"C","b":"G","x":6,"y":0.205},{"g":"C","b":"G","x":7,"y":0.22},{"g":"C","b":"G","x":8,"y":0.22},{"g":"C","b":"G","x":9,"y":0.2},{"g":"C","b":"G","x":10,"y":0.17},{"g":"C","b":"G","x":11,"y":0.165},{"g":"C","b":"G","x":12,"y":0.19},{"g":"C","b":"G","x":13,"y":0.19},
{"g":"C","b":"G","x":14,"y":0.185},{"g":"C","b":"G","x":16,"y":0.18},{"g":"C","b":"G","x":18,"y":0.185},{"g":"C","b":"G","x":20,"y":0.185},{"g":"C","b":"G","x":22,"y":0.18},{"g":"C","b":"G","x":24,"y":0.185},{"g":"C","b":"G","x":26,"y":0.18},{"g":"C","b":"G","x":28,"y":0.185},{"g":"C","b":"G","x":30,"y":0.185},{"g":"C","b":"G","x":32,"y":0.18},{"g":"C","b":"G","x":34,"y":0.185},{"g":"C","b":"G","x":36,"y":0.18},{"g":"C","b":"G","x":38,"y":0.185},{"g":"C","b":"G","x":40,"y":0.19},{"g":"C","b":"G","x":42,"y":0.185},{"g":"C","b":"G","x":44,"y":0.185},{"g":"C","b":"G","x":46,"y":0.185},{"g":"C","b":"G","x":48,"y":0.18},{"g":"C","b":"G","x":50,"y":0.18},

{"g":"D","b":"A","x":-50,"y":0.31},{"g":"D","b":"A","x":-48,"y":0.31},{"g":"D","b":"A","x":-46,"y":0.305},{"g":"D","b":"A","x":-44,"y":0.31},{"g":"D","b":"A","x":-42,"y":0.315},{"g":"D","b":"A","x":-40,"y":0.31},{"g":"D","b":"A","x":-38,"y":0.32},{"g":"D","b":"A","x":-36,"y":0.315},{"g":"D","b":"A","x":-34,"y":0.325},{"g":"D","b":"A","x":-32,"y":0.33},{"g":"D","b":"A","x":-30,"y":0.33},{"g":"D","b":"A","x":-28,"y":0.34},{"g":"D","b":"A","x":-26,"y":0.33},{"g":"D","b":"A","x":-24,"y":0.335},{"g":"D","b":"A","x":-22,"y":0.33},{"g":"D","b":"A","x":-20,"y":0.34},{"g":"D","b":"A","x":-18,"y":0.33},{"g":"D","b":"A","x":-16,"y":0.34},{"g":"D","b":"A","x":-14,"y":0.345},
{"g":"D","b":"A","x":-13,"y":0.335},{"g":"D","b":"A","x":-12,"y":0.33},{"g":"D","b":"A","x":-11,"y":0.335},{"g":"D","b":"A","x":-10,"y":0.325},{"g":"D","b":"A","x":-9,"y":0.33},{"g":"D","b":"A","x":-8,"y":0.335},{"g":"D","b":"A","x":-7,"y":0.33},{"g":"D","b":"A","x":-6,"y":0.315},{"g":"D","b":"A","x":-5,"y":0.31},{"g":"D","b":"A","x":-4,"y":0.3},{"g":"D","b":"A","x":-3,"y":0.03},{"g":"D","b":"A","x":-2,"y":0.85},{"g":"D","b":"A","x":-1,"y":0.72},{"g":"D","b":"A","x":0,"y":0.69},{"g":"D","b":"A","x":1,"y":0.61},{"g":"D","b":"A","x":2,"y":0.5},{"g":"D","b":"A","x":3,"y":0.4},{"g":"D","b":"A","x":4,"y":0.36},{"g":"D","b":"A","x":5,"y":0.35},{"g":"D","b":"A","x":6,"y":0.36},{"g":"D","b":"A","x":7,"y":0.39},{"g":"D","b":"A","x":8,"y":0.44},{"g":"D","b":"A","x":9,"y":0.435},{"g":"D","b":"A","x":10,"y":0.425},{"g":"D","b":"A","x":11,"y":0.41},{"g":"D","b":"A","x":12,"y":0.4},{"g":"D","b":"A","x":13,"y":0.385},
{"g":"D","b":"A","x":14,"y":0.36},{"g":"D","b":"A","x":16,"y":0.33},{"g":"D","b":"A","x":18,"y":0.335},{"g":"D","b":"A","x":20,"y":0.325},{"g":"D","b":"A","x":22,"y":0.33},{"g":"D","b":"A","x":24,"y":0.325},{"g":"D","b":"A","x":26,"y":0.32},{"g":"D","b":"A","x":28,"y":0.33},{"g":"D","b":"A","x":30,"y":0.325},{"g":"D","b":"A","x":32,"y":0.32},{"g":"D","b":"A","x":34,"y":0.325},{"g":"D","b":"A","x":36,"y":0.32},{"g":"D","b":"A","x":38,"y":0.315},{"g":"D","b":"A","x":40,"y":0.325},{"g":"D","b":"A","x":42,"y":0.32},{"g":"D","b":"A","x":44,"y":0.32},{"g":"D","b":"A","x":46,"y":0.315},{"g":"D","b":"A","x":48,"y":0.32},{"g":"D","b":"A","x":50,"y":0.32},

{"g":"D","b":"U","x":-50,"y":0.29},{"g":"D","b":"U","x":-48,"y":0.285},{"g":"D","b":"U","x":-46,"y":0.28},{"g":"D","b":"U","x":-44,"y":0.285},{"g":"D","b":"U","x":-42,"y":0.275},{"g":"D","b":"U","x":-40,"y":0.28},{"g":"D","b":"U","x":-38,"y":0.27},{"g":"D","b":"U","x":-36,"y":0.27},{"g":"D","b":"U","x":-34,"y":0.265},{"g":"D","b":"U","x":-32,"y":0.27},{"g":"D","b":"U","x":-30,"y":0.27},{"g":"D","b":"U","x":-28,"y":0.265},{"g":"D","b":"U","x":-26,"y":0.27},{"g":"D","b":"U","x":-24,"y":0.26},{"g":"D","b":"U","x":-22,"y":0.265},{"g":"D","b":"U","x":-20,"y":0.27},{"g":"D","b":"U","x":-18,"y":0.265},{"g":"D","b":"U","x":-16,"y":0.27},{"g":"D","b":"U","x":-14,"y":0.28},
{"g":"D","b":"U","x":-13,"y":0.28},{"g":"D","b":"U","x":-12,"y":0.285},{"g":"D","b":"U","x":-11,"y":0.285},{"g":"D","b":"U","x":-10,"y":0.29},{"g":"D","b":"U","x":-9,"y":0.3},{"g":"D","b":"U","x":-8,"y":0.305},{"g":"D","b":"U","x":-7,"y":0.31},{"g":"D","b":"U","x":-6,"y":0.315},{"g":"D","b":"U","x":-5,"y":0.32},{"g":"D","b":"U","x":-4,"y":0.29},{"g":"D","b":"U","x":-3,"y":0.18},{"g":"D","b":"U","x":-2,"y":0.085},{"g":"D","b":"U","x":-1,"y":0.1},{"g":"D","b":"U","x":0,"y":0.12},{"g":"D","b":"U","x":1,"y":0.15},{"g":"D","b":"U","x":2,"y":0.2},{"g":"D","b":"U","x":3,"y":0.24},{"g":"D","b":"U","x":4,"y":0.255},{"g":"D","b":"U","x":5,"y":0.265},{"g":"D","b":"U","x":6,"y":0.26},{"g":"D","b":"U","x":7,"y":0.235},{"g":"D","b":"U","x":8,"y":0.215},{"g":"D","b":"U","x":9,"y":0.215},{"g":"D","b":"U","x":10,"y":0.22},{"g":"D","b":"U","x":11,"y":0.23},{"g":"D","b":"U","x":12,"y":0.235},{"g":"D","b":"U","x":13,"y":0.245},
{"g":"D","b":"U","x":14,"y":0.25},{"g":"D","b":"U","x":16,"y":0.255},{"g":"D","b":"U","x":18,"y":0.265},{"g":"D","b":"U","x":20,"y":0.27},{"g":"D","b":"U","x":22,"y":0.265},{"g":"D","b":"U","x":24,"y":0.27},{"g":"D","b":"U","x":26,"y":0.275},{"g":"D","b":"U","x":28,"y":0.28},{"g":"D","b":"U","x":30,"y":0.28},{"g":"D","b":"U","x":32,"y":0.285},{"g":"D","b":"U","x":34,"y":0.29},{"g":"D","b":"U","x":36,"y":0.285},{"g":"D","b":"U","x":38,"y":0.29},{"g":"D","b":"U","x":40,"y":0.295},{"g":"D","b":"U","x":42,"y":0.29},{"g":"D","b":"U","x":44,"y":0.295},{"g":"D","b":"U","x":46,"y":0.3},{"g":"D","b":"U","x":48,"y":0.295},{"g":"D","b":"U","x":50,"y":0.29},

{"g":"D","b":"C","x":-50,"y":0.16},{"g":"D","b":"C","x":-48,"y":0.155},{"g":"D","b":"C","x":-46,"y":0.16},{"g":"D","b":"C","x":-44,"y":0.165},{"g":"D","b":"C","x":-42,"y":0.16},{"g":"D","b":"C","x":-40,"y":0.165},{"g":"D","b":"C","x":-38,"y":0.17},{"g":"D","b":"C","x":-36,"y":0.17},{"g":"D","b":"C","x":-34,"y":0.165},{"g":"D","b":"C","x":-32,"y":0.16},{"g":"D","b":"C","x":-30,"y":0.165},{"g":"D","b":"C","x":-28,"y":0.16},{"g":"D","b":"C","x":-26,"y":0.165},{"g":"D","b":"C","x":-24,"y":0.16},{"g":"D","b":"C","x":-22,"y":0.155},{"g":"D","b":"C","x":-20,"y":0.16},{"g":"D","b":"C","x":-18,"y":0.165},{"g":"D","b":"C","x":-16,"y":0.16},{"g":"D","b":"C","x":-14,"y":0.16},
{"g":"D","b":"C","x":-13,"y":0.165},{"g":"D","b":"C","x":-12,"y":0.165},{"g":"D","b":"C","x":-11,"y":0.16},{"g":"D","b":"C","x":-10,"y":0.16},{"g":"D","b":"C","x":-9,"y":0.165},{"g":"D","b":"C","x":-8,"y":0.155},{"g":"D","b":"C","x":-7,"y":0.145},{"g":"D","b":"C","x":-6,"y":0.14},{"g":"D","b":"C","x":-5,"y":0.16},{"g":"D","b":"C","x":-4,"y":0.17},{"g":"D","b":"C","x":-3,"y":0.33},{"g":"D","b":"C","x":-2,"y":0.03},{"g":"D","b":"C","x":-1,"y":0.045},{"g":"D","b":"C","x":0,"y":0.06},{"g":"D","b":"C","x":1,"y":0.07},{"g":"D","b":"C","x":2,"y":0.09},{"g":"D","b":"C","x":3,"y":0.11},{"g":"D","b":"C","x":4,"y":0.12},{"g":"D","b":"C","x":5,"y":0.125},{"g":"D","b":"C","x":6,"y":0.12},{"g":"D","b":"C","x":7,"y":0.125},{"g":"D","b":"C","x":8,"y":0.13},{"g":"D","b":"C","x":9,"y":0.125},{"g":"D","b":"C","x":10,"y":0.13},{"g":"D","b":"C","x":11,"y":0.14},{"g":"D","b":"C","x":12,"y":0.15},{"g":"D","b":"C","x":13,"y":0.16},
{"g":"D","b":"C","x":14,"y":0.165},{"g":"D","b":"C","x":16,"y":0.16},{"g":"D","b":"C","x":18,"y":0.155},{"g":"D","b":"C","x":20,"y":0.15},{"g":"D","b":"C","x":22,"y":0.155},{"g":"D","b":"C","x":24,"y":0.15},{"g":"D","b":"C","x":26,"y":0.155},{"g":"D","b":"C","x":28,"y":0.15},{"g":"D","b":"C","x":30,"y":0.155},{"g":"D","b":"C","x":32,"y":0.155},{"g":"D","b":"C","x":34,"y":0.16},{"g":"D","b":"C","x":36,"y":0.155},{"g":"D","b":"C","x":38,"y":0.16},{"g":"D","b":"C","x":40,"y":0.16},{"g":"D","b":"C","x":42,"y":0.165},{"g":"D","b":"C","x":44,"y":0.165},{"g":"D","b":"C","x":46,"y":0.17},{"g":"D","b":"C","x":48,"y":0.165},{"g":"D","b":"C","x":50,"y":0.16},

{"g":"D","b":"G","x":-50,"y":0.24},{"g":"D","b":"G","x":-48,"y":0.245},{"g":"D","b":"G","x":-46,"y":0.25},{"g":"D","b":"G","x":-44,"y":0.245},{"g":"D","b":"G","x":-42,"y":0.25},{"g":"D","b":"G","x":-40,"y":0.245},{"g":"D","b":"G","x":-38,"y":0.25},{"g":"D","b":"G","x":-36,"y":0.245},{"g":"D","b":"G","x":-34,"y":0.25},{"g":"D","b":"G","x":-32,"y":0.25},{"g":"D","b":"G","x":-30,"y":0.245},{"g":"D","b":"G","x":-28,"y":0.25},{"g":"D","b":"G","x":-26,"y":0.245},{"g":"D","b":"G","x":-24,"y":0.235},{"g":"D","b":"G","x":-22,"y":0.225},{"g":"D","b":"G","x":-20,"y":0.235},{"g":"D","b":"G","x":-18,"y":0.24},{"g":"D","b":"G","x":-16,"y":0.245},{"g":"D","b":"G","x":-14,"y":0.25},
{"g":"D","b":"G","x":-13,"y":0.25},{"g":"D","b":"G","x":-12,"y":0.245},{"g":"D","b":"G","x":-11,"y":0.235},{"g":"D","b":"G","x":-10,"y":0.225},{"g":"D","b":"G","x":-9,"y":0.23},{"g":"D","b":"G","x":-8,"y":0.24},{"g":"D","b":"G","x":-7,"y":0.25},{"g":"D","b":"G","x":-6,"y":0.26},{"g":"D","b":"G","x":-5,"y":0.28},{"g":"D","b":"G","x":-4,"y":0.33},{"g":"D","b":"G","x":-3,"y":0.46},{"g":"D","b":"G","x":-2,"y":0.08},{"g":"D","b":"G","x":-1,"y":0.12},{"g":"D","b":"G","x":0,"y":0.15},{"g":"D","b":"G","x":1,"y":0.2},{"g":"D","b":"G","x":2,"y":0.25},{"g":"D","b":"G","x":3,"y":0.28},{"g":"D","b":"G","x":4,"y":0.295},{"g":"D","b":"G","x":5,"y":0.3},{"g":"D","b":"G","x":6,"y":0.29},{"g":"D","b":"G","x":7,"y":0.25},{"g":"D","b":"G","x":8,"y":0.215},{"g":"D","b":"G","x":9,"y":0.215},{"g":"D","b":"G","x":10,"y":0.225},{"g":"D","b":"G","x":11,"y":0.235},{"g":"D","b":"G","x":12,"y":0.24},{"g":"D","b":"G","x":13,"y":0.245},
{"g":"D","b":"G","x":14,"y":0.25},{"g":"D","b":"G","x":16,"y":0.25},{"g":"D","b":"G","x":18,"y":0.255},{"g":"D","b":"G","x":20,"y":0.26},{"g":"D","b":"G","x":22,"y":0.255},{"g":"D","b":"G","x":24,"y":0.26},{"g":"D","b":"G","x":26,"y":0.255},{"g":"D","b":"G","x":28,"y":0.26},{"g":"D","b":"G","x":30,"y":0.26},{"g":"D","b":"G","x":32,"y":0.255},{"g":"D","b":"G","x":34,"y":0.25},{"g":"D","b":"G","x":36,"y":0.24},{"g":"D","b":"G","x":38,"y":0.235},{"g":"D","b":"G","x":40,"y":0.23},{"g":"D","b":"G","x":42,"y":0.225},{"g":"D","b":"G","x":44,"y":0.225},{"g":"D","b":"G","x":46,"y":0.22},{"g":"D","b":"G","x":48,"y":0.225},{"g":"D","b":"G","x":50,"y":0.225}
]},
"resolve": {"legend": {"color": "independent"}},
"spacing": 40,
"vconcat": [
  {"hconcat": [
    {"title": {"text": "A", "dx": -4},
     "width": 215, "height": 210,
     "transform": [{"filter": "datum.g === 'A'"}],
     "mark": {"type": "line", "strokeWidth": 2.6},
     "encoding": {
       "x": {"field": "x", "type": "quantitative", "scale": {"domain": [-50, 50], "nice": false}, "axis": {"values": [-50, 0, 50], "title": "position"}},
       "y": {"field": "y", "type": "quantitative", "scale": {"domain": [0, 1], "nice": false}, "axis": {"values": [0, 0.2, 0.4, 0.6, 0.8, 1], "format": ".1f", "title": "relative content"}},
       "color": {"field": "b", "type": "nominal", "scale": {"domain": ["A", "U", "C", "G"], "range": ["#4a7ebb", "#be4b48", "#98b954", "#7d60a0"]}, "legend": {"orient": "none", "legendX": 150, "legendY": 2}}
     }},
    {"title": {"text": "B", "dx": -4},
     "width": 221, "height": 214,
     "transform": [{"filter": "datum.g === 'B'"}],
     "mark": {"type": "line", "strokeWidth": 2.6},
     "encoding": {
       "x": {"field": "x", "type": "quantitative", "scale": {"domain": [-50, 50], "nice": false}, "axis": {"values": [-50, 0, 50], "title": "position"}},
       "y": {"field": "y", "type": "quantitative", "scale": {"domain": [0, 1], "nice": false}, "axis": {"values": [0, 0.2, 0.4, 0.6, 0.8, 1], "format": ".1f", "title": "relative content"}},
       "color": {"field": "b", "type": "nominal", "scale": {"domain": ["A", "U", "C", "G"], "range": ["#4a7ebb", "#be4b48", "#98b954", "#7d60a0"]}, "legend": {"orient": "none", "legendX": 159, "legendY": 4, "rowPadding": 6}}
     }}
  ], "spacing": 18, "resolve": {"legend": {"color": "independent"}}},
  {"hconcat": [
    {"title": {"text": "C", "dx": -4},
     "width": 215, "height": 212,
     "transform": [{"filter": "datum.g === 'C'"}],
     "mark": {"type": "line", "strokeWidth": 2.6},
     "encoding": {
       "x": {"field": "x", "type": "quantitative", "scale": {"domain": [-50, 50], "nice": false}, "axis": {"values": [-50, 0, 50], "title": "position"}},
       "y": {"field": "y", "type": "quantitative", "scale": {"domain": [0, 1], "nice": false}, "axis": {"values": [0, 0.2, 0.4, 0.6, 0.8, 1], "format": ".1f", "title": "relative content"}},
       "color": {"field": "b", "type": "nominal", "scale": {"domain": ["A", "U", "C", "G"], "range": ["#4a7ebb", "#be4b48", "#98b954", "#7d60a0"]}, "legend": {"orient": "none", "legendX": 154, "legendY": 4, "rowPadding": 6}}
     }},
    {"title": {"text": "D", "dx": -4},
     "width": 212, "height": 214,
     "transform": [{"filter": "datum.g === 'D'"}],
     "mark": {"type": "line", "strokeWidth": 2.6},
     "encoding": {
       "x": {"field": "x", "type": "quantitative", "scale": {"domain": [-50, 50], "nice": false}, "axis": {"values": [-50, 0, 50], "title": "position"}},
       "y": {"field": "y", "type": "quantitative", "scale": {"domain": [0, 1], "nice": false}, "axis": {"values": [0, 0.2, 0.4, 0.6, 0.8, 1], "format": ".1f", "title": "relative content"}},
       "color": {"field": "b", "type": "nominal", "scale": {"domain": ["A", "U", "C", "G"], "range": ["#4a7ebb", "#be4b48", "#98b954", "#7d60a0"]}, "legend": {"orient": "none", "legendX": 152, "legendY": 4, "rowPadding": 6}}
     }}
  ], "spacing": 18, "resolve": {"legend": {"color": "independent"}}}
]
}
